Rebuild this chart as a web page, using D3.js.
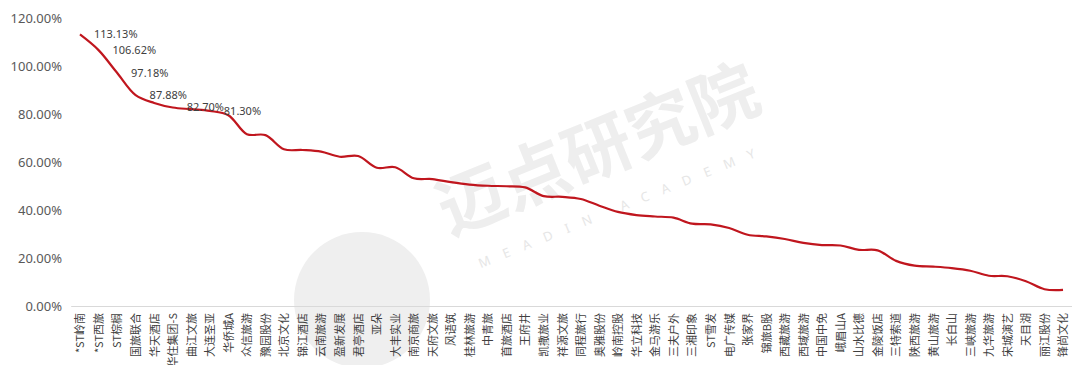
<!DOCTYPE html>
<html><head><meta charset="utf-8">
<script src="https://cdn.jsdelivr.net/npm/d3@7"></script>
<style>
body{margin:0;background:#fff;}
svg{display:block;font-family:"Noto Sans","Noto Sans CJK SC",sans-serif;}
</style></head>
<body><svg id="chart" width="1072" height="365"></svg>
<script>
const categories = ["*ST岭南","*ST西旅","ST棕榈","国旅联合","华天酒店","华住集团-S","曲江文旅","大连圣亚","华侨城A","众信旅游","豫园股份","北京文化","锦江酒店","云南旅游","盈新发展","君亭酒店","亚朵","大丰实业","南京商旅","天府文旅","风语筑","桂林旅游","中青旅","首旅酒店","王府井","凯撒旅业","祥源文旅","同程旅行","奥雅股份","岭南控股","华立科技","金马游乐","三夫户外","三湘印象","ST雪发","电广传媒","张家界","锦旅B股","西藏旅游","西域旅游","中国中免","峨眉山A","山水比德","金陵饭店","三特索道","陕西旅游","黄山旅游","长白山","三峡旅游","九华旅游","宋城演艺","天目湖","丽江股份","锋尚文化"];
const values = [113.13,106.62,97.18,87.88,84.6,82.70,82.0,81.30,79.5,71.6,71.2,65.3,65.0,64.3,62.2,62.5,57.6,57.8,53.2,52.9,51.6,50.6,50.1,49.9,49.4,45.8,45.5,44.6,41.8,39.2,37.9,37.3,36.8,34.3,34.0,32.5,29.7,29.0,27.9,26.3,25.4,25.2,23.4,23.2,18.8,16.8,16.4,15.8,14.7,12.6,12.4,10.3,7.0,6.7];
const labeledIdx = [0,1,2,3,5,7];
const yTicks = [0,20,40,60,80,100,120];

const svg = d3.select("#chart");
const x = d3.scalePoint().domain(categories).range([70.7,1072.3]).padding(0.5);
const y = d3.scaleLinear().domain([0,120]).range([306,18]);

// watermark
const wm = svg.append("g").attr("class","watermark");
wm.append("circle").attr("cx",362).attr("cy",300).attr("r",68).attr("fill","#efefef");
wm.append("text").attr("transform","translate(607,172) rotate(-22)")
  .attr("text-anchor","middle").attr("font-size",68).attr("font-weight",700)
  .attr("font-family","Noto Sans CJK SC").attr("fill","#eeeeee").text("迈点研究院");
wm.append("text").attr("transform","translate(625,210) rotate(-22)")
  .attr("text-anchor","middle").attr("font-size",13).attr("letter-spacing","14px")
  .attr("fill","#e6e6e6").text("MEADIN ACADEMY");

// y axis
const yAxis = svg.append("g").attr("transform","translate(70,0)")
  .call(d3.axisLeft(y).tickValues(yTicks).tickSize(0).tickPadding(8).tickFormat(d=>d.toFixed(2)+"%"));
yAxis.select(".domain").remove();
yAxis.selectAll("text").attr("font-size",13).attr("fill","#595959").attr("font-family","Noto Sans");

// x axis
const xAxis = svg.append("g").attr("transform","translate(0,306)")
  .call(d3.axisBottom(x).tickSize(0).tickSizeOuter(0));
xAxis.select(".domain").attr("stroke","#d9d9d9").attr("stroke-width",1);
xAxis.selectAll("text")
  .attr("font-size",11).attr("fill","#404040").attr("font-family","Noto Sans CJK SC")
  .attr("text-anchor","end").attr("transform","rotate(-90)")
  .attr("x",-7).attr("y",0).attr("dy","0.35em");

// line
const line = d3.line().x((d,i)=>x(categories[i])).y(d=>y(d)).curve(d3.curveCatmullRom.alpha(0.5));
svg.append("path").datum(values).attr("d",line)
  .attr("fill","none").attr("stroke","#c0161e").attr("stroke-width",2.2);

// data labels
svg.append("g").selectAll("text").data(labeledIdx).join("text")
  .attr("x",i=>x(categories[i])+14).attr("y",i=>y(values[i]))
  .attr("dy","0.35em").attr("font-size",11).attr("fill","#404040")
  .text(i=>values[i].toFixed(2)+"%");
</script></body></html>
